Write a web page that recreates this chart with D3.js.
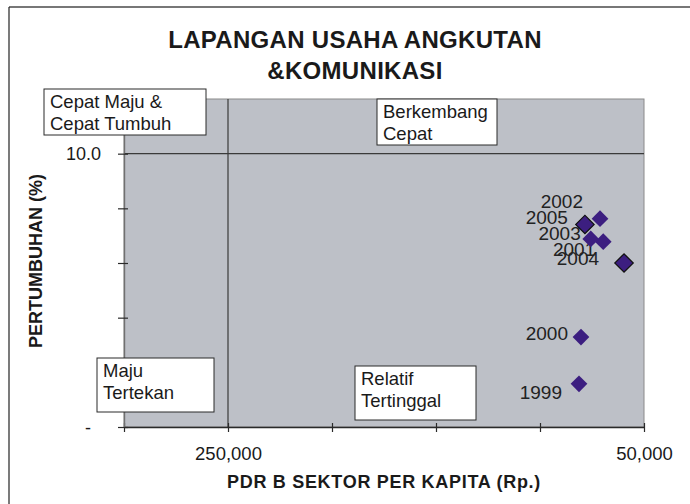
<!DOCTYPE html>
<html>
<head>
<meta charset="utf-8">
<script src="https://cdn.jsdelivr.net/npm/d3@7"></script>
<style>
  html, body { margin: 0; padding: 0; background: #ffffff; }
  svg { display: block; font-family: "Liberation Sans", Arial, sans-serif; }
</style>
</head>
<body>
<svg id="chart" width="690" height="504"></svg>
<script>
// ---- data ----
const years   = ["1999", "2000", "2001", "2002", "2003", "2004", "2005"];
const pdrb    = [81250, 80300, 69600, 71150, 75600, 59600, 78400];   // PDRB sektor per kapita (Rp.)
const growth  = [1.58, 3.29, 6.78, 7.62, 6.88, 6.00, 7.41];          // pertumbuhan (%)
const outlined = ["2004", "2005"];
const xTicks = [300000, 250000, 200000, 150000, 100000, 50000];
const xTickLabels = ["", "250,000", "", "", "", "50,000"];
const yTicks = [0, 2, 4, 6, 8, 10];
const yTickLabels = ["-", "", "", "", "", "10.0"];
const titleLines = ["LAPANGAN USAHA ANGKUTAN", "&KOMUNIKASI"];
const quadrants = [
  { lines: ["Cepat Maju &", "Cepat Tumbuh"], box: [44, 89, 206, 135] },
  { lines: ["Berkembang", "Cepat"], box: [377, 99, 497, 145] },
  { lines: ["Maju", "Tertekan"], box: [97, 358, 214, 412] },
  { lines: ["Relatif", "Tertinggal"], box: [355, 366, 476, 420] }
];
// label offsets relative to markers (text-anchor end)
const labelPos = {
  "1999": [-17, 15], "2000": [-13, 3], "2001": [-8, 14], "2002": [-17, -11],
  "2003": [-10, 1], "2004": [-25, 2], "2005": [-17, 0]
};

// ---- layout ----
const L = 124, R = 644, T = 99, B = 427;
const svg = d3.select("#chart");

const x = d3.scaleLinear().domain([300000, 50000]).range([L, R]);
const y = d3.scaleLinear().domain([0, 12]).range([B, T]);

// outer frame (left and top only visible)
svg.append("line").attr("x1", 9).attr("x2", 690).attr("y1", 7).attr("y2", 7)
  .attr("stroke", "#4a4a4a").attr("stroke-width", 1.5);
svg.append("line").attr("x1", 9).attr("x2", 9).attr("y1", 7).attr("y2", 504)
  .attr("stroke", "#222").attr("stroke-width", 1.2);

// title
svg.append("g").selectAll("text").data(titleLines).join("text")
  .attr("x", 355).attr("y", (d, i) => 48 + i * 31)
  .attr("text-anchor", "middle")
  .attr("font-size", 24).attr("font-weight", "bold").attr("fill", "#1a1a1a")
  .attr("letter-spacing", 0.3)
  .text(d => d);

// plot area
svg.append("rect").attr("x", L).attr("y", T).attr("width", R - L).attr("height", B - T)
  .attr("fill", "#bdc0c7").attr("stroke", "#8a8a8a").attr("stroke-width", 1);

// cross lines at 250,000 and 10.0
svg.append("line").attr("x1", x(250000)).attr("x2", x(250000)).attr("y1", T).attr("y2", B)
  .attr("stroke", "#3a3a3a").attr("stroke-width", 1.2);
svg.append("line").attr("x1", L).attr("x2", R).attr("y1", y(10)).attr("y2", y(10))
  .attr("stroke", "#3a3a3a").attr("stroke-width", 1.2);

// x axis
const xAxis = d3.axisBottom(x).tickValues(xTicks).tickSize(0)
  .tickFormat((d, i) => xTickLabels[i]);
const gx = svg.append("g").attr("transform", `translate(0,${B})`).call(xAxis);
gx.select(".domain").attr("stroke", "#2a2a2a").attr("stroke-width", 1.4);
gx.selectAll(".tick line").remove();
gx.selectAll(".tick").append("line").attr("y1", -4).attr("y2", 5)
  .attr("stroke", "#2a2a2a").attr("stroke-width", 1.2);
gx.selectAll(".tick text").attr("y", 33).attr("dy", 0)
  .attr("font-size", 18.5).attr("fill", "#1a1a1a").attr("font-family", "Liberation Sans, Arial, sans-serif");

// y axis
const yAxis = d3.axisLeft(y).tickValues(yTicks).tickSize(0)
  .tickFormat((d, i) => yTickLabels[i]);
const gy = svg.append("g").attr("transform", `translate(${L},0)`).call(yAxis);
gy.select(".domain").attr("stroke", "#707070").attr("stroke-width", 1.4);
gy.selectAll(".tick line").remove();
gy.selectAll(".tick").append("line").attr("x1", -6).attr("x2", 4)
  .attr("stroke", "#2a2a2a").attr("stroke-width", 1.2);
gy.selectAll(".tick text")
  .attr("x", d => d === 0 ? -33 : -23).attr("dy", "0.35em")
  .attr("font-size", 18).attr("fill", "#1a1a1a").attr("font-family", "Liberation Sans, Arial, sans-serif");

// axis titles
svg.append("text").attr("x", 384).attr("y", 488).attr("text-anchor", "middle")
  .attr("font-size", 18).attr("font-weight", "bold").attr("fill", "#1a1a1a")
  .attr("letter-spacing", 0.7)
  .text("PDR B SEKTOR PER KAPITA (Rp.)");
svg.append("text").attr("transform", "translate(42,261) rotate(-90)")
  .attr("text-anchor", "middle")
  .attr("font-size", 18).attr("font-weight", "bold").attr("fill", "#1a1a1a")
  .text("PERTUMBUHAN (%)");

// quadrant boxes
const qg = svg.append("g").selectAll("g").data(quadrants).join("g");
qg.append("rect")
  .attr("x", d => d.box[0]).attr("y", d => d.box[1])
  .attr("width", d => d.box[2] - d.box[0]).attr("height", d => d.box[3] - d.box[1])
  .attr("fill", "#ffffff").attr("stroke", "#2a2a2a").attr("stroke-width", 1);
qg.selectAll("text").data(d => d.lines.map((t, i) => ({ t, i, b: d.box }))).join("text")
  .attr("x", d => d.b[0] + 6).attr("y", d => d.b[1] + 19 + d.i * 22)
  .attr("font-size", 18.5).attr("fill", "#1a1a1a")
  .text(d => d.t);

// points
const pts = years.map((yr, i) => ({ yr, px: pdrb[i], g: growth[i] }));
const square = d3.symbol().type(d3.symbolSquare);
// labels
svg.append("g").selectAll("text").data(pts).join("text")
  .attr("x", d => x(d.px) + labelPos[d.yr][0])
  .attr("y", d => y(d.g) + labelPos[d.yr][1])
  .attr("text-anchor", "end")
  .attr("font-size", 19).attr("fill", "#222")
  .text(d => d.yr);
svg.append("g").selectAll("path").data(pts).join("path")
  .attr("transform", d => `translate(${x(d.px)},${y(d.g)}) rotate(45)`)
  .attr("d", d => square.size(outlined.includes(d.yr) ? 170 : 140)())
  .attr("fill", "#3c1e80")
  .attr("stroke", d => outlined.includes(d.yr) ? "#111" : "none")
  .attr("stroke-width", 1.2);
</script>
</body>
</html>
